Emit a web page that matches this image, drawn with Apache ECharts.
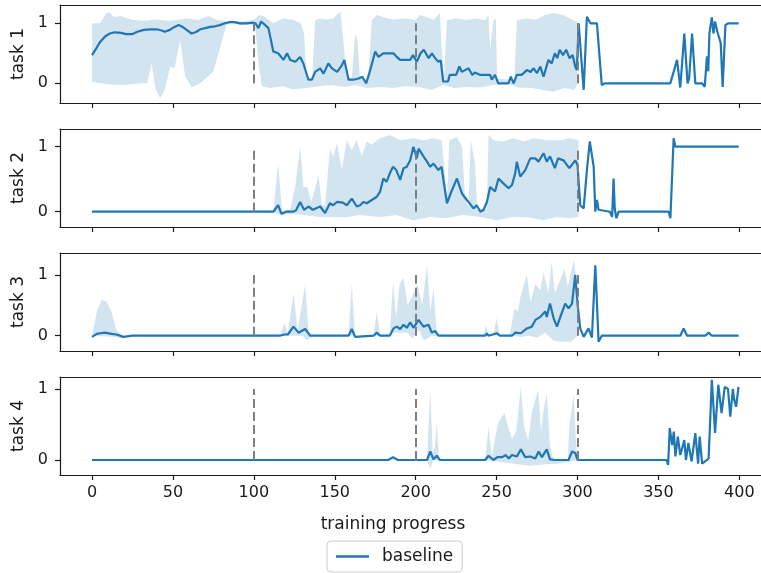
<!DOCTYPE html>
<html lang="en">
<head>
  <meta charset="UTF-8">
  <title>baseline per task</title>
  <script src="https://cdn.jsdelivr.net/npm/echarts@6/dist/echarts.min.js"></script>
  <style>
    html, body { margin: 0; padding: 0; background: #fff; }
    #main { width: 761px; height: 573px; }
  </style>
</head>
<body>
  <div id="main"></div>
<script>
  // ticks, names and phase boundaries
  const xTicks = [0, 50, 100, 150, 200, 250, 300, 350, 400];
  const yTicks = [0, 1];
  const phaseBounds = [100, 200, 300];
  const taskNames = ['task 1', 'task 2', 'task 3', 'task 4'];

  // mean curve as [progress, value]
  const task1Mean = [[0,0.47],[3,0.6],[5,0.69],[8,0.78],[11,0.83],[14,0.85],[18,0.84],[21,0.82],[25,0.82],[28,0.86],[32,0.89],[36,0.9],[40,0.9],[43,0.88],[45,0.86],[48,0.89],[51,0.94],[53.5,0.97],[56,0.94],[58,0.9],[61.5,0.83],[64,0.85],[67,0.9],[70,0.92],[73,0.94],[76,0.95],[79,0.97],[82,1.0],[85,1.02],[88,1.02],[91.5,1.0],[95,1.0],[99.7,1.01],[101,1.0],[102.8,0.92],[104.5,1.03],[107,0.97],[109,0.92],[112,0.53],[115,0.5],[118.3,0.39],[120.5,0.5],[122.5,0.39],[125.6,0.36],[128.6,0.44],[130.6,0.33],[133.7,0.06],[135.8,0.06],[137.9,0.19],[141,0.25],[143,0.16],[146,0.33],[148.3,0.25],[151.4,0.19],[154.4,0.3],[155.9,0.39],[158.5,0.06],[161.6,0.06],[164.7,0.08],[167,0.11],[169.4,0.0],[171.9,0.22],[175,0.53],[177,0.44],[180,0.5],[183,0.5],[186.3,0.5],[188.3,0.44],[190.4,0.39],[193,0.39],[196.6,0.39],[198.3,0.47],[200.7,0.36],[203,0.5],[205,0.56],[208,0.42],[210,0.5],[212,0.42],[214,0.36],[215.5,0.38],[217,0.03],[220,0.03],[221,0.14],[225,0.14],[227,0.28],[228.5,0.19],[230.5,0.22],[232.6,0.25],[235,0.14],[236.5,0.18],[240,0.14],[246,0.14],[247,0.06],[249,0.14],[251,0.0],[257.3,0.0],[258.8,0.11],[260.5,0.0],[262.5,0.14],[265.5,0.14],[268.7,0.22],[271,0.19],[272.9,0.25],[275,0.17],[277,0.28],[279,0.11],[282,0.39],[284,0.33],[286,0.5],[287.5,0.42],[289,0.56],[291,0.47],[293,0.56],[295,0.42],[297,0.47],[298.6,0.28],[299.6,0.22],[300.7,1.0],[303.8,-0.11],[305.8,1.11],[308,1.0],[312,1.0],[315,-0.03],[317,0.0],[357.3,0.0],[359.5,0.2],[361.5,0.39],[363.5,-0.07],[366,0.83],[368,0.0],[369,0.08],[370.8,0.83],[372.8,0.0],[377,0.0],[378.6,-0.06],[380,0.45],[380.8,0.2],[381.5,0.83],[383,1.1],[384,0.83],[385,1.03],[386.5,0.85],[388.5,0.67],[389.7,-0.06],[391.4,0.97],[393,1.0],[399.6,1.0]];
  const task2Mean = [[0,0],[112,0],[115,0.1],[117,-0.03],[120,0.0],[124,0.0],[126,0.02],[128.6,0.15],[131,0.03],[133.7,0.08],[136.5,0.03],[141,0.08],[144,-0.02],[147,0.13],[149,0.1],[151.3,0.15],[155,0.14],[157.4,0.1],[160.5,0.2],[163.6,0.08],[165.7,0.1],[167.7,0.15],[169.8,0.13],[172.9,0.18],[176,0.23],[178,0.31],[180,0.51],[182,0.46],[184,0.59],[186,0.69],[188,0.64],[190.4,0.49],[192.5,0.67],[194.5,0.69],[196.6,0.79],[198.6,1.0],[200.7,0.82],[201.8,0.97],[204.8,0.85],[207,0.77],[209,0.69],[211,0.74],[214,0.64],[216,0.69],[219.3,0.13],[222.4,0.33],[225.5,0.51],[228.6,0.28],[231.6,0.18],[233.6,0.12],[235.7,0.05],[237.7,0.1],[240,0.0],[242,0.03],[244,0.15],[246,0.38],[249,0.31],[251.2,0.51],[254,0.44],[257.4,0.36],[259.5,0.41],[261.5,0.59],[262.5,0.77],[264.6,0.54],[267.7,0.64],[270.8,0.82],[273.9,0.82],[275.9,0.77],[279,0.9],[281,0.77],[283,0.85],[286,0.67],[288,0.82],[291.4,0.79],[293.4,0.72],[295,0.67],[298.6,0.79],[300,0.72],[301.7,0.1],[303.8,0.05],[305.8,0.64],[307.6,1.08],[310,0.69],[311,0.0],[312,0.18],[313,0.03],[320,0.0],[321.4,-0.08],[322.3,0.51],[323,0.05],[324,-0.1],[325.4,0.0],[356.3,0.0],[357.4,-0.1],[359.4,1.13],[360.5,1.0],[399.6,1.0]];
  const task3Mean = [[0,-0.02],[3,0.03],[5,0.04],[8,0.05],[12,0.03],[15,0.02],[19.4,-0.02],[25,0],[116,0],[119,0.02],[121,0.02],[124.5,0.15],[127.6,0.05],[131.7,0.11],[134.8,0],[158.5,0],[160.5,0.11],[162.6,-0.02],[174,0],[176,0.05],[178,0],[184,0],[186.3,0.12],[188.3,0.15],[190.4,0.11],[192.5,0.18],[194.5,0.13],[196.6,0.22],[198.6,0.13],[201.8,0.26],[204.8,0.15],[207.9,0.18],[210,0.05],[212,0.08],[214,0],[243,0],[244,0.04],[245,0],[250.2,0.04],[252,0],[259.5,0],[261.6,0.05],[265,0.04],[268.7,0.12],[271.8,0.15],[274,0.26],[277,0.31],[280,0.4],[281,0.31],[283,0.53],[285.2,0.29],[287.3,0.15],[289.4,0.31],[292.4,0.53],[294.5,0.45],[296.6,0.53],[297.8,0.56],[298.6,1.0],[300.1,0.5],[301.7,0.12],[303.8,-0.02],[306.8,0.12],[308.9,-0.03],[311,1.16],[313,-0.1],[315,0],[363.5,0],[365.6,0.12],[367.7,0],[379,0],[381,0.05],[383,0],[399.6,0]];
  const task4Mean = [[0,0],[183,0],[186,0.04],[189,0],[207,0],[209,0.12],[211,0.01],[213,0.06],[215,0],[243,0],[245,0.06],[248,0],[250.5,0.04],[253.5,0.04],[255.5,0.07],[257.5,0.02],[259.5,0.07],[262.5,0.05],[265,0.15],[267.7,0.04],[270.8,0.05],[273.9,0.02],[276,0.12],[278,0.04],[281,0.15],[283,0.01],[286,0],[294.5,0],[296.6,0.12],[298.6,0.1],[300,0],[355,0],[356,-0.07],[357,0.45],[358.5,0.21],[359.5,0.4],[360.5,0.05],[362,0.33],[363.5,0.07],[366,0.28],[367,0],[368.5,0.24],[370.5,-0.02],[372.8,0.38],[374.5,-0.05],[375.5,0.33],[377,-0.05],[381,0.02],[382,0.56],[383,1.13],[385,0.38],[387,1.06],[389,0.66],[391,1.03],[393,1.0],[394.4,0.61],[396,1.0],[396.8,0.85],[398,0.75],[399.5,1.03]];

  // shaded spread: upper and lower edges
  const task1Upper = [[0,1.0],[5,1.0],[9,1.17],[11,1.18],[13.5,1.1],[17.5,1.12],[22,1.08],[25,1.06],[32,1.04],[38,1.06],[42,1.06],[47,1.04],[51,1.05],[58,1.08],[66,1.06],[72,1.12],[77,1.06],[83,1.03],[91,1.03],[99.7,1.05],[103,1.14],[106,1.12],[112,1.0],[118,1.08],[124,1.06],[129,1.0],[131,0.83],[132.7,0.07],[136,0.07],[137.9,1.05],[141,1.08],[145,1.06],[149,1.08],[152.5,1.17],[153.5,1.19],[155.9,0.55],[157,0.1],[160.5,0.08],[162.6,0.83],[164,0.72],[165.5,0.1],[170.5,0.05],[172.9,1.05],[176,1.14],[180,1.1],[186,1.06],[192,1.08],[200,1.06],[202.8,1.14],[207,1.1],[211,1.06],[215,1.17],[216,0.61],[217.5,0.1],[219.3,1.05],[225,1.08],[231,1.06],[237,1.08],[243,1.05],[245,1.14],[246,0.55],[248,1.05],[249.5,1.08],[250.3,0.08],[261,0.05],[262.5,1.05],[268,1.08],[274,1.06],[280,1.14],[285,1.17],[291,1.14],[297,1.06],[299.6,1.03],[300,0.9]];
  const task1Lower = [[0,0.02],[5,0],[10,-0.02],[20,-0.03],[30,0],[34,0.0],[36.9,0.33],[39,-0.07],[42,-0.25],[45,-0.1],[48.3,0.28],[51,0.25],[54.4,0.72],[57.5,0.12],[61.6,-0.07],[67,0],[75,0.2],[79,0.58],[83,0.97],[86,1.0],[92,0.97],[99,0.98],[101,0.9],[103,0.3],[105,-0.05],[110,-0.08],[118,-0.05],[124,-0.1],[133,-0.08],[140,-0.05],[148,-0.03],[156,-0.06],[163,-0.03],[170,-0.08],[178,-0.06],[186,-0.08],[194,-0.05],[202,-0.06],[210,-0.11],[217,-0.03],[224,-0.08],[232,-0.06],[240,-0.07],[248,-0.03],[256,0],[264,-0.07],[272,-0.08],[280,-0.12],[285,-0.14],[292,-0.08],[298,-0.11],[300,0]];
  const task2Upper = [[0,0],[112,0],[115,0.74],[117.4,0.02],[122.4,0.03],[125.5,0.38],[128.6,1.0],[130.6,0.38],[133,0.38],[135.5,0.15],[140,0.56],[142,0.1],[144,0.1],[147,0.97],[149,0.85],[151.3,1.05],[154.4,0.64],[157.4,1.1],[160.5,0.95],[163.6,1.1],[166.7,0.85],[169.8,1.08],[172.9,1.03],[176,1.1],[178,1.13],[184,1.18],[190.4,1.1],[198.6,1.13],[204.8,1.1],[211,1.13],[216,1.1],[217.8,0.64],[219.3,0.18],[220.8,1.1],[225.5,1.15],[228.6,1.0],[230.6,0.18],[232.6,0.08],[234,1.1],[236.7,0.74],[238,0.03],[244,0.05],[245,1.18],[248,1.1],[254,1.08],[260,1.13],[266.7,1.08],[272.9,1.13],[281,1.1],[289,1.1],[295,1.13],[300.7,1.1]];
  const task2Lower = [[0,0],[112,0],[116,-0.05],[124,-0.03],[131,-0.05],[141,-0.08],[149,-0.08],[157,-0.09],[165,-0.05],[178,-0.08],[188,-0.05],[198.6,-0.13],[209,-0.08],[219,-0.1],[229,-0.05],[240,-0.08],[250,-0.13],[260,-0.08],[270,-0.09],[279,-0.13],[287,-0.08],[295,-0.1],[300.7,-0.08]];
  const task3Upper = [[0,0],[3,0.4],[6,0.59],[9,0.56],[12,0.4],[15,0.09],[19,0],[116,0],[119,0.2],[121,0.05],[124.5,0.7],[127,0.08],[131.7,0.84],[134,0],[158.5,0],[160.5,0.86],[162.5,0],[174,0],[176,0.4],[178,0],[184,0.05],[186,0.89],[188,0.3],[190,0.85],[192.5,0.95],[195,0.5],[197,0.6],[201,0.85],[204,0.5],[207,1.16],[209,0.4],[211,0.78],[213,0.05],[214,0],[242,0],[243.5,0.18],[245,0],[248,0],[250,0.29],[252,0],[258,0],[261,0.45],[263,0.4],[265,0.67],[268.7,1.0],[271,0.55],[274,0.85],[277,0.75],[279,1.05],[282,0.7],[284,1.22],[286,0.7],[289,0.9],[292,1.1],[294,0.8],[297.7,1.25],[299,1.0],[300,0.5],[301,0]];
  const task3Lower = [[0,0],[15,-0.02],[19,-0.05],[22,0],[116,0],[130,0],[133,-0.08],[136,0],[180,0],[186,0.05],[195,0.05],[198,-0.05],[202,0.1],[205,-0.08],[210,0],[214,0],[260,0],[265,-0.02],[270,0],[275,-0.03],[280,0.05],[285,-0.08],[290,-0.1],[296,-0.1],[300,0],[301,0]];
  const task4Upper = [[0,0],[183,0],[186,0.05],[189,0],[207,0],[209,0.99],[210.5,0.1],[212,0.2],[213,0.52],[214.5,0],[243,0],[245,0.47],[247,0.05],[249,0.3],[251,0.52],[253,0.6],[255,0.66],[257,0.47],[259.5,0.3],[262,0.4],[265,1.03],[267,0.47],[269.5,0.28],[272,0.7],[275.7,0.99],[277.5,0.4],[279,0.7],[281,0.94],[283,0.2],[285,0],[294,0],[295,0.5],[297.6,0.92],[299,0.3],[300,0]];
  const task4Lower = [[0,0],[207,0],[209,-0.12],[211,0],[243,0],[260,-0.05],[270,-0.08],[280,-0.06],[290,-0.05],[300,0]];

  const means = [task1Mean, task2Mean, task3Mean, task4Mean];
  const uppers = [task1Upper, task2Upper, task3Upper, task4Upper];
  const lowers = [task1Lower, task2Lower, task3Lower, task4Lower];

  // layout of the four panels (right edge runs past the picture)
  const panelTops = [5, 129, 253, 377];
  const panelHeight = 98;
  const yRanges = [[-0.328, 1.305], [-0.235, 1.272], [-0.252, 1.362], [-0.211, 1.169]];

  const font = 'DejaVu Sans';
  const ink = '#1a1a1a';
  const blue = '#1f77b4';

  const chart = echarts.init(document.getElementById('main'));

  const grids = [], xAxes = [], yAxes = [], series = [];
  taskNames.forEach((name, i) => {
    const last = i === taskNames.length - 1;
    grids.push({ left: 60, right: -9, top: panelTops[i], height: panelHeight, outerBoundsMode: 'none' });
    // bottom spine with ticks
    xAxes.push({
      type: 'value', gridIndex: i, position: 'bottom', min: -19.8, max: 418.95,
      axisLine: { show: true, onZero: false, lineStyle: { color: ink, width: 1.2 } },
      splitLine: { show: false },
      axisTick: { show: true, length: 5, customValues: xTicks, lineStyle: { color: ink, width: 1.2 } },
      axisLabel: { show: last, customValues: xTicks, margin: 10, fontSize: 16, fontFamily: font, color: ink },
      name: last ? 'training progress' : '',
      nameLocation: 'middle', nameGap: 41,
      nameTextStyle: { fontSize: 17, fontFamily: font, color: ink, padding: [0, 44, 0, 0] }
    });
    // top spine only
    xAxes.push({
      type: 'value', gridIndex: i, position: 'top', min: -19.8, max: 418.95,
      axisLine: { show: true, onZero: false, lineStyle: { color: ink, width: 1.2 } },
      splitLine: { show: false }, axisTick: { show: false }, axisLabel: { show: false }
    });
    yAxes.push({
      type: 'value', gridIndex: i, min: yRanges[i][0], max: yRanges[i][1],
      axisLine: { show: true, onZero: false, lineStyle: { color: ink, width: 1.2 } },
      splitLine: { show: false },
      axisTick: { show: true, length: 5, customValues: yTicks, lineStyle: { color: ink, width: 1.2 } },
      axisLabel: { customValues: yTicks, margin: 12, fontSize: 16, fontFamily: font, color: ink },
      name: name, nameLocation: 'middle', nameRotate: 90, nameGap: 29,
      nameTextStyle: { fontSize: 17, fontFamily: font, color: ink }
    });
    series.push({
      type: 'custom', name: 'spread ' + (i + 1), xAxisIndex: 2 * i, yAxisIndex: i,
      silent: true, z: 1, data: [[0, 0]],
      renderItem: (params, api) => {
        const pts = uppers[i].map(p => api.coord(p))
          .concat(lowers[i].slice().reverse().map(p => api.coord(p)));
        return { type: 'polygon', shape: { points: pts }, style: { fill: 'rgba(31,119,180,0.2)' } };
      }
    });
    series.push({
      type: 'line', name: 'baseline', xAxisIndex: 2 * i, yAxisIndex: i,
      data: means[i], showSymbol: false, z: 3,
      lineStyle: { color: blue, width: 2.2 }, itemStyle: { color: blue },
      markLine: {
        silent: true, symbol: ['none', 'none'], label: { show: false },
        lineStyle: { color: '#7f7f7f', type: [9, 4], width: 2 },
        data: phaseBounds.map(x => [{ coord: [x, 0] }, { coord: [x, 1] }])
      }
    });
  });

  chart.setOption({
    animation: false,
    grid: grids,
    xAxis: xAxes,
    yAxis: yAxes,
    legend: {
      data: [{ name: 'baseline', icon: 'rect' }],
      left: 327, bottom: 1,
      itemWidth: 33, itemHeight: 2.5,
      padding: [7, 9], borderColor: '#cccccc', borderWidth: 1, borderRadius: 4,
      textStyle: { fontSize: 17, fontFamily: font, color: ink, padding: [0, 0, 0, 8] }
    },
    series: series
  });
</script>
</body>
</html>
